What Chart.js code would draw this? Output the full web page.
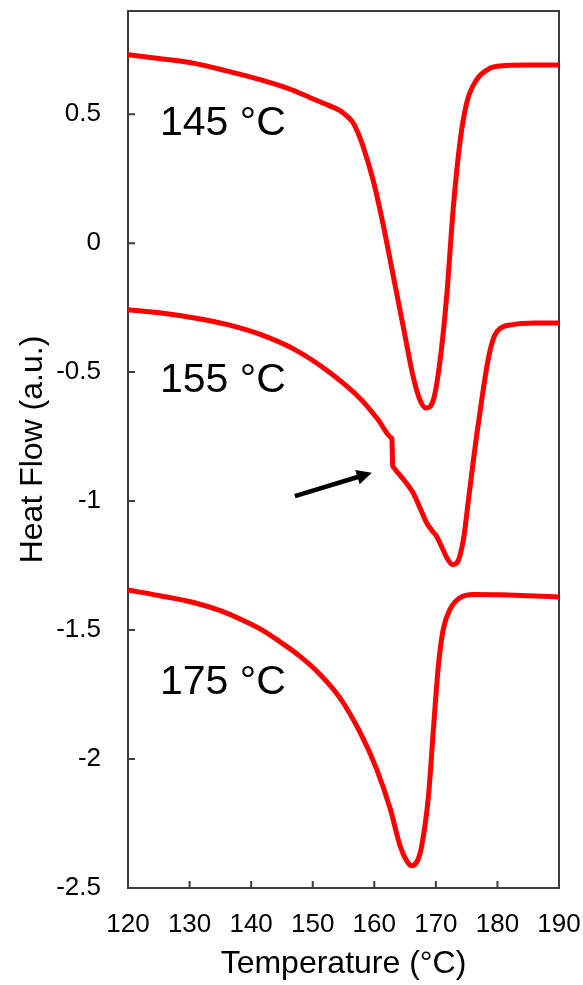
<!DOCTYPE html>
<html>
<head>
<meta charset="utf-8">
<script src="https://cdn.jsdelivr.net/npm/chart.js@4.4.1/dist/chart.umd.min.js"></script>
<style>
  html, body { margin: 0; padding: 0; background: #fff; }
  canvas { display: block; }
</style>
</head>
<body>
<canvas id="dsc" width="583" height="985"></canvas>
<script>
// DSC traces after isothermal steps at 145, 155 and 175 °C
const temp145 = [120, 125, 130.8, 136, 141.6, 146, 149.8, 152.5, 154.5, 155.6, 156.6, 157.4, 158.2, 159.8, 161.5, 163.1, 164.7, 166.3, 167.4, 168.4, 169.6, 170.7, 171.8, 172.8, 173.9, 175.0, 176.6, 178.8, 180.4, 185, 190];
const flow145 = [0.730, 0.716, 0.697, 0.668, 0.633, 0.600, 0.562, 0.535, 0.513, 0.492, 0.465, 0.425, 0.374, 0.245, 0.065, -0.129, -0.323, -0.516, -0.607, -0.639, -0.607, -0.452, -0.193, 0.129, 0.388, 0.543, 0.633, 0.678, 0.687, 0.691, 0.691];

const temp155 = [120, 125.4, 130.8, 136.2, 141.6, 147.1, 152.5, 157.9, 160.6, 162.8, 162.85, 163.0, 163.05, 163.6, 164.1, 165.2, 166.3, 167.4, 168.5, 169.3, 170.1, 171, 171.8, 172.7, 173.4, 173.9, 174.6, 175.3, 176, 176.6, 177.5, 178.5, 179.5, 180.5, 182.5, 186, 190];
const flow155 = [-0.258, -0.271, -0.290, -0.316, -0.355, -0.413, -0.497, -0.607, -0.684, -0.755, -0.757, -0.865, -0.867, -0.884, -0.897, -0.930, -0.968, -1.025, -1.084, -1.112, -1.136, -1.180, -1.220, -1.246, -1.240, -1.213, -1.130, -0.994, -0.860, -0.750, -0.600, -0.450, -0.360, -0.330, -0.316, -0.310, -0.310];

const temp175 = [120, 125, 130.8, 135, 138.9, 142, 144.9, 147.9, 151.2, 154.4, 157.7, 160.4, 162.6, 164.2, 165.2, 166.1, 167, 167.7, 168.8, 169.6, 170.4, 171.2, 172.3, 173.9, 176.1, 180.4, 185, 190];
const flow175 = [-1.345, -1.366, -1.394, -1.425, -1.465, -1.503, -1.549, -1.601, -1.672, -1.762, -1.897, -2.040, -2.194, -2.337, -2.392, -2.414, -2.395, -2.337, -2.143, -1.885, -1.640, -1.497, -1.420, -1.375, -1.362, -1.363, -1.367, -1.372];

const curveLabels = ["145 °C", "155 °C", "175 °C"];
const labelAnchors = [[125.2, 0.420], [125.2, -0.579], [125.2, -1.749]];
const arrowTail = [147.1, -0.981];
const arrowTip = [159.6, -0.890];

const FONT = "'Liberation Sans', Arial, Helvetica, sans-serif";
const RED = "#ff0000";
const FRAME = "#3c3c3c";

Chart.defaults.font.family = FONT;

function toPoints(xs, ys) {
  return xs.map((x, i) => ({ x, y: ys[i] }));
}

function lineSet(xs, ys) {
  return {
    data: toPoints(xs, ys),
    borderColor: RED,
    borderWidth: 5,
    pointRadius: 0,
    cubicInterpolationMode: "monotone",
    fill: false
  };
}

// Box frame with inward tick marks, curve labels and the arrow
const decorations = {
  id: "decorations",
  beforeDatasetsDraw(chart) {
    const { ctx, chartArea: a, scales: { x, y } } = chart;
    ctx.save();
    ctx.strokeStyle = FRAME;
    ctx.lineWidth = 2;
    ctx.strokeRect(a.left, a.top, a.right - a.left, a.bottom - a.top);
    ctx.beginPath();
    x.ticks.forEach(t => {
      if (t.value <= x.min || t.value >= x.max) return;
      const px = x.getPixelForValue(t.value);
      ctx.moveTo(px, a.bottom);
      ctx.lineTo(px, a.bottom - 7);
    });
    y.ticks.forEach(t => {
      if (t.value <= y.min || t.value >= y.max) return;
      const py = y.getPixelForValue(t.value);
      ctx.moveTo(a.left, py);
      ctx.lineTo(a.left + 7, py);
    });
    ctx.stroke();
    ctx.restore();
  },
  afterDraw(chart) {
    const { ctx, scales: { x, y } } = chart;
    ctx.save();
    ctx.fillStyle = "#000";
    ctx.font = "41px " + FONT;
    ctx.textAlign = "left";
    ctx.textBaseline = "alphabetic";
    curveLabels.forEach((txt, i) => {
      const [tx, ty] = labelAnchors[i];
      ctx.fillText(txt, x.getPixelForValue(tx), y.getPixelForValue(ty));
    });

    const x0 = x.getPixelForValue(arrowTail[0]), y0 = y.getPixelForValue(arrowTail[1]);
    const x1 = x.getPixelForValue(arrowTip[0]), y1 = y.getPixelForValue(arrowTip[1]);
    const ang = Math.atan2(y1 - y0, x1 - x0);
    const headLen = 15, headHalf = 7.5;
    const bx = x1 - headLen * Math.cos(ang), by = y1 - headLen * Math.sin(ang);
    ctx.strokeStyle = "#000";
    ctx.lineWidth = 4.5;
    ctx.beginPath();
    ctx.moveTo(x0, y0);
    ctx.lineTo(bx + 2 * Math.cos(ang), by + 2 * Math.sin(ang));
    ctx.stroke();
    ctx.beginPath();
    ctx.moveTo(x1, y1);
    ctx.lineTo(bx + headHalf * Math.sin(ang), by - headHalf * Math.cos(ang));
    ctx.lineTo(bx - headHalf * Math.sin(ang), by + headHalf * Math.cos(ang));
    ctx.closePath();
    ctx.fill();
    ctx.restore();
  }
};

function noScalePadding(scale) {
  scale.paddingTop = 0;
  scale.paddingBottom = 0;
  scale.paddingLeft = 0;
  scale.paddingRight = 0;
}

new Chart(document.getElementById("dsc"), {
  type: "line",
  data: {
    datasets: [lineSet(temp145, flow145), lineSet(temp155, flow155), lineSet(temp175, flow175)]
  },
  options: {
    responsive: false,
    animation: false,
    layout: { padding: { top: 11, right: 24, left: 0, bottom: 0 } },
    plugins: { legend: { display: false }, tooltip: { enabled: false } },
    scales: {
      x: {
        type: "linear",
        min: 120,
        max: 190,
        grid: { display: false, drawTicks: false },
        border: { display: false },
        ticks: {
          stepSize: 10,
          padding: 21,
          color: "#000",
          font: { size: 26 },
          maxRotation: 0,
          autoSkip: false,
          callback: v => String(v)
        },
        title: {
          display: true,
          text: "Temperature (°C)",
          color: "#000",
          font: { size: 32 },
          padding: { top: 0, bottom: 2 }
        },
        afterFit(scale) {
          scale.height = 97;
          noScalePadding(scale);
        }
      },
      y: {
        type: "linear",
        min: -2.5,
        max: 0.9,
        grid: { display: false, drawTicks: false },
        border: { display: false },
        ticks: {
          stepSize: 0.5,
          padding: 27,
          color: "#000",
          font: { size: 26 },
          autoSkip: false,
          callback: v => String(v)
        },
        afterBuildTicks(scale) {
          scale.ticks = scale.ticks.filter(t => Math.abs(t.value * 2 - Math.round(t.value * 2)) < 1e-9);
        },
        title: {
          display: true,
          text: "Heat Flow (a.u.)",
          color: "#000",
          font: { size: 32 },
          padding: { top: 14, bottom: 0 }
        },
        afterFit(scale) {
          scale.width = 128;
          noScalePadding(scale);
        }
      }
    }
  },
  plugins: [decorations]
});
</script>
</body>
</html>
